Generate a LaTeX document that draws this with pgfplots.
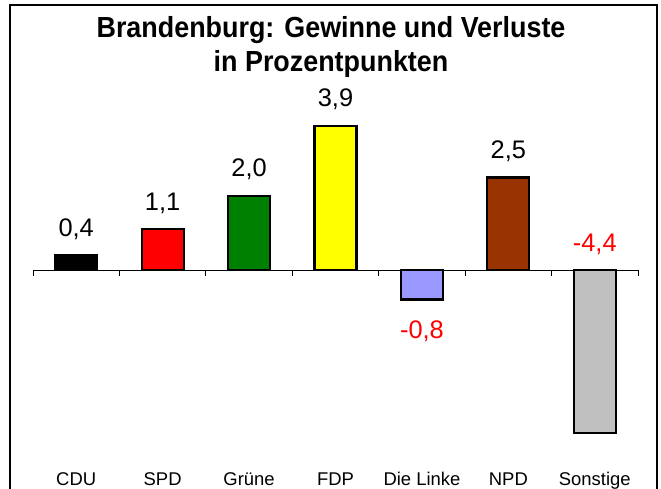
\documentclass[border=0pt]{standalone}
\usepackage{pgfplots}
\pgfplotsset{compat=1.18}
\usepackage{fontspec}
\setmainfont{Liberation Sans}
\definecolor{cdu}{RGB}{0,0,0}
\definecolor{spd}{RGB}{255,0,0}
\definecolor{gruene}{RGB}{0,128,0}
\definecolor{fdp}{RGB}{255,255,0}
\definecolor{linke}{RGB}{153,153,255}
\definecolor{npd}{RGB}{153,51,0}
\definecolor{sonst}{RGB}{192,192,192}
\begin{document}
\begin{tikzpicture}[x=1bp,y=1bp]
\useasboundingbox (0,0) rectangle (661,489);
\draw[line width=1.2bp] (10,-20) rectangle (657,484);
\node[font=\bfseries\fontsize{27}{27}\selectfont, anchor=base] at (331,451) {\scalebox{1}[1.08]{Brandenburg: Gewinne und Verluste}};
\node[font=\bfseries\fontsize{27}{27}\selectfont, anchor=base] at (331,417) {\scalebox{1}[1.08]{in Prozentpunkten}};
\begin{axis}[
  at={(33bp,34bp)}, anchor=south west,
  scale only axis, width=605bp, height=370bp,
  xmin=-0.5, xmax=6.5, ymin=-5, ymax=5,
  axis x line=middle, axis y line=none,
  x axis line style={-, line width=0.8bp},
  xtick={0,...,6},
  xticklabels={CDU,SPD,Grüne,FDP,Die Linke,NPD,Sonstige},
  xticklabel style={anchor=base, yshift=-216bp, font=\fontsize{18.5}{18.5}\selectfont, inner sep=0pt},
  major tick length=0pt,
  xtick align=outside,
  extra x ticks={-0.5,0.5,1.5,2.5,3.5,4.5,5.5,6.5},
  extra x tick labels={},
  extra x tick style={major tick length=6bp, xtick align=outside, tick style={line width=0.8bp, black}},
  clip=false,
  /pgf/number format/use comma,
  /pgf/number format/fixed,
  /pgf/number format/fixed zerofill,
  /pgf/number format/precision=1,
  /pgf/number format/assume math mode=true,
  pos/.style={nodes near coords, nodes near coords style={anchor=base, yshift=19bp, inner sep=0pt, text=black, font=\fontsize{25.5}{25.5}\selectfont}},
  neg/.style={nodes near coords, nodes near coords style={anchor=north, yshift=-20bp, inner sep=0pt, text=red, font=\fontsize{25.5}{25.5}\selectfont}},
  barst/.style={ybar, bar width=42bp, bar shift=0pt, draw=black, line width=2.2bp},
]
\addplot[barst, fill=cdu, pos] coordinates {(0,0.4)};
\addplot[barst, fill=spd, pos] coordinates {(1,1.1)};
\addplot[barst, fill=gruene, pos] coordinates {(2,2.0)};
\addplot[barst, fill=fdp, pos] coordinates {(3,3.9)};
\addplot[barst, fill=linke, neg] coordinates {(4,-0.8)};
\addplot[barst, fill=npd, pos] coordinates {(5,2.5)};
\addplot[barst, fill=sonst] coordinates {(6,-4.4)};
\node[anchor=base, yshift=18bp, text=red, font=\fontsize{25.5}{25.5}\selectfont, inner sep=0pt] at (axis cs:6,0) {-4,4};
\end{axis}
\end{tikzpicture}
\end{document}
